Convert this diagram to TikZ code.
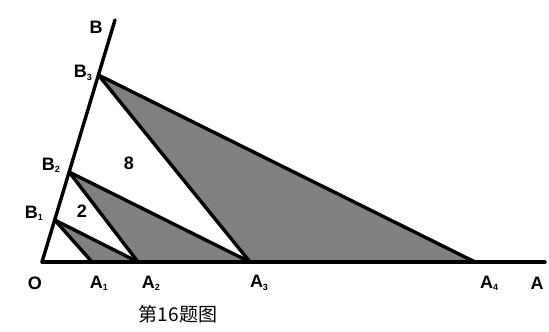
\documentclass[tikz,border=0pt]{standalone}
\usepackage{fontspec}
\setmainfont{Liberation Sans}
\newfontfamily\cjk{Noto Sans CJK SC}
\newcommand{\sbx}[1]{\raisebox{-0.25ex}{\fontsize{9}{9}\selectfont\bfseries #1}}
\begin{document}
\begin{tikzpicture}[x=1pt,y=1pt,
  seg/.style={line width=3.4pt,line cap=round,line join=round},
  shade/.style={fill=black!50},
  lab/.style={font=\fontsize{18}{18}\selectfont\bfseries,inner sep=0pt},
  num/.style={font=\fontsize{18}{18}\selectfont\bfseries,inner sep=0pt}]
\useasboundingbox (0,0) rectangle (549,332);
\coordinate (O) at (42,70);
\coordinate (A1) at (92,70);
\coordinate (A2) at (138,70);
\coordinate (A3) at (250,70);
\coordinate (A4) at (475,70);
\coordinate (A) at (545,70);
\coordinate (B1) at (54.7,112);
\coordinate (B2) at (69.1,160);
\coordinate (B3) at (98.4,257);
\coordinate (B) at (115,312);
\fill[shade] (B1) -- (A1) -- (A2) -- cycle;
\fill[shade] (B2) -- (A2) -- (A3) -- cycle;
\fill[shade] (B3) -- (A3) -- (A4) -- cycle;
\draw[seg] (O) -- (A);
\draw[seg] (O) -- (B);
\draw[seg] (B1) -- (A1);
\draw[seg] (B1) -- (A2);
\draw[seg] (B2) -- (A2);
\draw[seg] (B2) -- (A3);
\draw[seg] (B3) -- (A3);
\draw[seg] (B3) -- (A4);
\node[lab] (lB) at (96,305) {B};
\node[lab] (lB3) at (83,259) {B\sbx{3}};
\node[lab] (lB2) at (51,167) {B\sbx{2}};
\node[lab] (lB1) at (34,119) {B\sbx{1}};
\node[num] (n2) at (82,121) {2};
\node[num] (n8) at (129,169) {8};
\node[lab] (lO) at (35,49) {O};
\node[lab] (lA1) at (99,49) {A\sbx{1}};
\node[lab] (lA2) at (151,49) {A\sbx{2}};
\node[lab] (lA3) at (259,49) {A\sbx{3}};
\node[lab] (lA4) at (489,49) {A\sbx{4}};
\node[lab] (lA) at (537,49) {A};
\node[inner sep=0pt,font=\cjk\fontsize{19}{19}\selectfont] (cap) at (178,18) {第16题图};
\end{tikzpicture}
\end{document}
